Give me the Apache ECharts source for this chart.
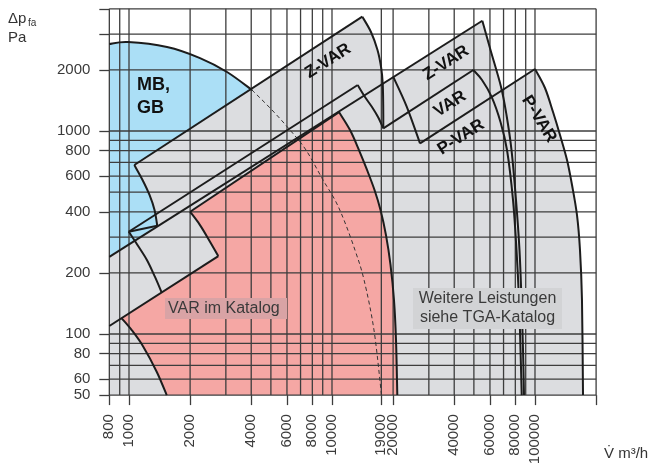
<!DOCTYPE html>
<html>
<head>
<meta charset="utf-8">
<script src="https://cdn.jsdelivr.net/npm/echarts@6/dist/echarts.min.js"></script>
<style>
  html, body { margin: 0; padding: 0; background: #fff; }
  #chart { width: 654px; height: 465px; }
</style>
</head>
<body>
<div id="chart"></div>
<script>
// ---- axes ----
const flowTicks = [800, 1000, 2000, 4000, 6000, 8000, 10000, 17500, 20000, 40000, 60000, 80000, 100000];
const flowTickLabels = ['800', '1000', '2000', '4000', '6000', '8000', '10000', '19000', '20000', '40000', '60000', '80000', '100000'];
const pressureTicks = [50, 60, 80, 100, 200, 400, 600, 800, 1000, 2000];
const flowGrid = [800, 900, 1000, 2000, 3000, 4000, 5000, 6000, 7000, 8000, 9000, 10000, 17500, 20000,
  30000, 40000, 50000, 60000, 70000, 80000, 90000, 100000, 200000];
const pressureGrid = [50, 60, 70, 80, 90, 100, 200, 300, 400, 500, 600, 700, 800, 900, 1000, 2000, 3000, 4000];

// ---- curves, [flow m3/h, dp Pa] ----
// MB/GB limit, solid part and dashed part
const mbGbCurve = [[800, 2683], [989, 2744], [1539, 2593], [2238, 2288], [3040, 1953], [4036, 1592]];
const mbGbDashed = [[4036, 1592], [5063, 1269], [6211, 1011], [7446, 806], [9031, 574], [10346, 457],
  [11460, 364], [12980, 259], [14376, 185], [16100, 104.6], [17535, 50]];

// small Z-VAR band
const zvarTop = [[1062, 680], [14103, 3657]];
const zvarLeftEnd = [[1062, 680], [1166, 574], [1262, 484], [1336, 408], [1378, 341]];
const zvarRightEnd = [[14103, 3657], [15560, 3075], [16755, 2506], [17477, 2043], [17778, 1714], [17877, 1343], [17897, 1031]];
const zvarLower = [[800, 240], [55020, 3494]];

// small VAR band
const varTop = [[997, 319], [13385, 1685]];
const varStep = [[997, 319], [1378, 341]];
const varLeftEnd = [[997, 319], [1101, 274.5], [1227, 231], [1343, 191], [1449, 160]];
const varRightEnd = [[13385, 1685], [14540, 1471], [15740, 1313], [16852, 1172], [17897, 1031]];

// VAR im Katalog
const pvarLower = [[800, 109.5], [2754, 242]];
const redTop = [[2000, 400], [10827, 1240]];
const redNotch = [[2754, 242], [2506, 285], [2238, 344], [2000, 400]];
const redRightEnd = [[10827, 1240], [12270, 1011], [13580, 806], [14880, 643], [16200, 512], [17340, 408],
  [18450, 307], [19420, 219], [20200, 147], [20670, 93.4], [20977, 50]];
const redLeftEnd = [[1534, 50], [1369, 65.2], [1176, 86.6], [1031, 104.6], [920, 119.5]];

// large bands
const bigZvarLeftEnd = [[20045, 1847], [23335, 1320], [27140, 870]];
const bigVarTop = [[17897, 1031], [49670, 1998]];
const bigVarRightEnd = [[49670, 1998], [54830, 1783], [61070, 1476], [67610, 1108], [72800, 806],
  [77940, 457], [81090, 259], [83420, 147], [84850, 83.4], [86030, 50]];
const bigZvarRightEnd = [[55020, 3494], [60380, 2506], [68000, 1653], [72380, 1199], [76620, 806],
  [80630, 457], [83880, 259], [85830, 147], [87300, 83.4], [88290, 50]];
const bigPvarTop = [[27140, 870], [100000, 2020]];
const bigPvarRightEnd = [[100000, 2020], [112000, 1629], [122700, 1240], [132800, 956], [143800, 720],
  [152200, 542], [161000, 386], [166600, 259], [170400, 147], [172400, 50]];

// ---- shapes built from the curves above ----
const fills = [
  {
    color: '#abdff6',
    parts: [
      { pts: mbGbCurve, curve: true },
      { pts: mbGbDashed.slice(0, 2), curve: true },
      { pts: [[5063, 1269], [5063, 772], [800, 240]] }
    ]
  },
  {
    color: '#dcdde0',
    parts: [
      { pts: [[800, 50], [800, 240], [1378, 341]] },
      { pts: zvarLeftEnd.slice().reverse(), curve: true },
      { pts: zvarTop },
      { pts: zvarRightEnd.slice(0, 5), curve: true },
      { pts: [[17778, 1714], [20045, 1847], [55020, 3494]] },
      { pts: bigZvarRightEnd.slice(0, 3).concat([[68630, 1583]]), curve: true },
      { pts: [[68630, 1583], [100000, 2020]] },
      { pts: bigPvarRightEnd, curve: true },
      { pts: [[172400, 50], [800, 50]] }
    ]
  },
  {
    color: '#f5a7a4',
    parts: [
      { pts: redTop },
      { pts: redRightEnd, curve: true },
      { pts: [[20977, 50], [1534, 50]] },
      { pts: redLeftEnd, curve: true },
      { pts: [[920, 119.5], [2754, 242]] },
      { pts: redNotch, curve: true }
    ]
  }
];

const outlines = [
  { pts: mbGbCurve, curve: true },
  { pts: mbGbDashed, curve: true, dashed: true },
  { pts: zvarTop }, { pts: zvarLeftEnd, curve: true }, { pts: zvarRightEnd, curve: true }, { pts: zvarLower },
  { pts: varTop }, { pts: varStep }, { pts: varLeftEnd, curve: true }, { pts: varRightEnd, curve: true },
  { pts: pvarLower }, { pts: redTop }, { pts: redNotch, curve: true },
  { pts: redRightEnd, curve: true }, { pts: redLeftEnd, curve: true },
  { pts: bigZvarLeftEnd, curve: true }, { pts: bigVarTop }, { pts: bigVarRightEnd, curve: true },
  { pts: bigZvarRightEnd, curve: true }, { pts: bigPvarTop }, { pts: bigPvarRightEnd, curve: true }
];

// straight parts as L, curved ends as Catmull-Rom through the read points
function toPath(parts, api, close) {
  let d = '';
  const f = (p) => p[0].toFixed(2) + ' ' + p[1].toFixed(2);
  parts.forEach((part, k) => {
    const pts = part.pts.map((p) => api.coord(p));
    d += (k === 0 ? 'M' : 'L') + f(pts[0]);
    for (let i = 0; i < pts.length - 1; i++) {
      if (!part.curve) {
        d += 'L' + f(pts[i + 1]);
        continue;
      }
      const p0 = pts[Math.max(i - 1, 0)], p1 = pts[i], p2 = pts[i + 1], p3 = pts[Math.min(i + 2, pts.length - 1)];
      const c1 = [p1[0] + (p2[0] - p0[0]) / 6, p1[1] + (p2[1] - p0[1]) / 6];
      const c2 = [p2[0] - (p3[0] - p1[0]) / 6, p2[1] - (p3[1] - p1[1]) / 6];
      d += 'C' + f(c1) + ' ' + f(c2) + ' ' + f(p2);
    }
  });
  return close ? d + 'Z' : d;
}

const labelFont = '"Liberation Sans", Arial, sans-serif';
const gridColor = '#3d3d3d';
const flowMin = flowGrid[0], flowMax = flowGrid[flowGrid.length - 1];
const pMin = pressureGrid[0], pMax = pressureGrid[pressureGrid.length - 1];

const chart = echarts.init(document.getElementById('chart'));

const option = {
  animation: false,
  grid: {
    left: 109.33, right: 57.9, top: 8.8, bottom: 69.9,
    containLabel: false, outerBoundsMode: 'none'
  },
  xAxis: {
    type: 'log', logBase: 10, min: flowMin, max: flowMax,
    axisLine: { show: false },
    splitLine: { show: false },
    minorTick: { show: false },
    axisTick: {
      show: true, length: 10, customValues: flowTicks.concat([200000]),
      lineStyle: { color: gridColor, width: 1.3 }
    },
    axisLabel: {
      customValues: flowTicks, rotate: 90, margin: 19,
      fontSize: 15, color: '#3a3a3a', fontFamily: labelFont,
      formatter: (v) => {
        let best = 0;
        flowTicks.forEach((t, i) => { if (Math.abs(t - v) < Math.abs(flowTicks[best] - v)) best = i; });
        return flowTickLabels[best];
      }
    }
  },
  yAxis: {
    type: 'log', logBase: 10, min: pMin, max: pMax,
    axisLine: { show: false },
    splitLine: { show: false },
    minorTick: { show: false },
    axisTick: {
      show: true, length: 10, customValues: pressureTicks.concat([3000, 4000]),
      lineStyle: { color: gridColor, width: 1.3 }
    },
    axisLabel: {
      customValues: pressureTicks, margin: 19,
      fontSize: 15, color: '#3a3a3a', fontFamily: labelFont,
      formatter: (v) => String(Math.round(v))
    }
  },
  series: [
    {
      // coloured areas
      type: 'custom', z: 1, silent: true,
      data: fills.map(() => [1000, 1000]),
      renderItem: (params, api) => ({
        type: 'path',
        shape: { pathData: toPath(fills[params.dataIndex].parts, api, true) },
        style: { fill: fills[params.dataIndex].color, stroke: null }
      })
    },
    {
      // vertical grid lines
      type: 'custom', z: 2, silent: true,
      data: flowGrid.map((v) => [v, pMin]),
      renderItem: (params, api) => {
        const a = api.coord([api.value(0), pMin]);
        const b = api.coord([api.value(0), pMax]);
        return {
          type: 'line',
          shape: { x1: a[0], y1: a[1], x2: b[0], y2: b[1] },
          style: { stroke: gridColor, lineWidth: 1.3 }
        };
      }
    },
    {
      // horizontal grid lines
      type: 'custom', z: 2, silent: true,
      data: pressureGrid.map((p) => [flowMin, p]),
      renderItem: (params, api) => {
        const a = api.coord([flowMin, api.value(1)]);
        const b = api.coord([flowMax, api.value(1)]);
        return {
          type: 'line',
          shape: { x1: a[0], y1: a[1], x2: b[0], y2: b[1] },
          style: { stroke: gridColor, lineWidth: 1.3 }
        };
      }
    },
    {
      // band outlines
      type: 'custom', z: 3, silent: true,
      data: outlines.map(() => [1000, 1000]),
      renderItem: (params, api) => {
        const o = outlines[params.dataIndex];
        return {
          type: 'path',
          shape: { pathData: toPath([o], api, false) },
          style: o.dashed
            ? { fill: 'none', stroke: '#333', lineWidth: 1, lineDash: [4, 3] }
            : { fill: 'none', stroke: '#1c1c1c', lineWidth: 2, lineJoin: 'round' }
        };
      }
    }
  ],
  graphic: [
    { type: 'text', x: 8, y: 11, z: 100, style: { text: 'Δp', font: '15px ' + labelFont, fill: '#333' } },
    { type: 'text', x: 28, y: 18, z: 100, style: { text: 'fa', font: '10px ' + labelFont, fill: '#333' } },
    { type: 'text', x: 8, y: 30, z: 100, style: { text: 'Pa', font: '15px ' + labelFont, fill: '#333' } },
    { type: 'text', x: 604, y: 446, z: 100, style: { text: 'V\u0307 m³/h', font: '15px ' + labelFont, fill: '#333' } },

    { type: 'text', x: 137, y: 74, z: 100,
      style: { text: 'MB,\nGB', font: 'bold 18px ' + labelFont, lineHeight: 23, fill: '#111' } },

    { type: 'text', x: 328, y: 61, rotation: 0.57, z: 100,
      style: { text: 'Z-VAR', font: 'bold 17px ' + labelFont, fill: '#111', align: 'center', verticalAlign: 'middle' } },
    { type: 'text', x: 446, y: 63, rotation: 0.57, z: 100,
      style: { text: 'Z-VAR', font: 'bold 17px ' + labelFont, fill: '#111', align: 'center', verticalAlign: 'middle' } },
    { type: 'text', x: 450, y: 104, rotation: 0.57, z: 100,
      style: { text: 'VAR', font: 'bold 17px ' + labelFont, fill: '#111', align: 'center', verticalAlign: 'middle' } },
    { type: 'text', x: 461, y: 137, rotation: 0.57, z: 100,
      style: { text: 'P-VAR', font: 'bold 17px ' + labelFont, fill: '#111', align: 'center', verticalAlign: 'middle' } },
    { type: 'text', x: 539, y: 119, rotation: -1.02, z: 100,
      style: { text: 'P-VAR', font: 'bold 17px ' + labelFont, fill: '#111', align: 'center', verticalAlign: 'middle' } },

    { type: 'rect', z: 99, shape: { x: 165, y: 298, width: 122, height: 21 }, style: { fill: '#d9a3a5' } },
    { type: 'text', x: 168, y: 309, z: 100,
      style: { text: 'VAR im Katalog', font: '16px ' + labelFont, fill: '#3a3a3a', verticalAlign: 'middle' } },

    { type: 'rect', z: 99, shape: { x: 413, y: 288, width: 149, height: 41 }, style: { fill: '#d2d3d5' } },
    { type: 'text', x: 487.5, y: 308.5, z: 100,
      style: { text: 'Weitere Leistungen\nsiehe TGA-Katalog', font: '16px ' + labelFont, lineHeight: 19,
        fill: '#3a3a3a', align: 'center', verticalAlign: 'middle' } }
  ]
};

chart.setOption(option);
</script>
</body>
</html>
